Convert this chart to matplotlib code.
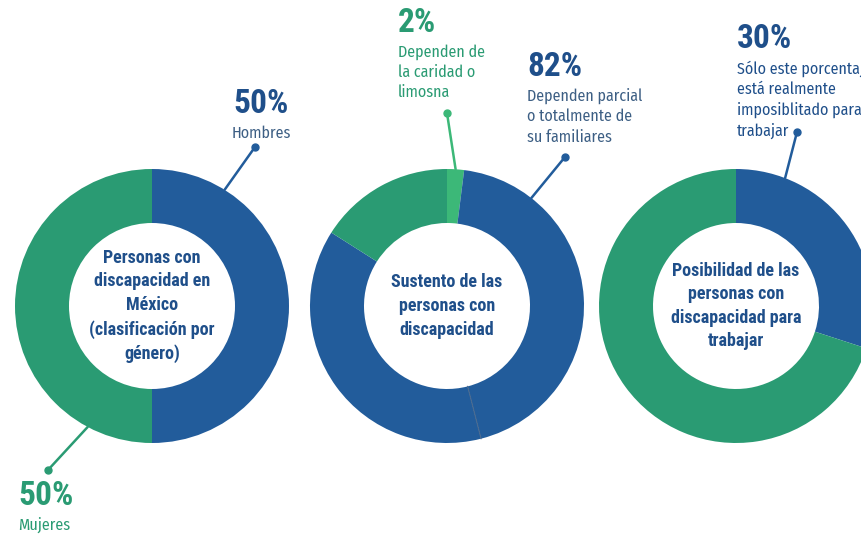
import matplotlib
matplotlib.use("Agg")
import matplotlib.pyplot as plt
import numpy as np

# colours
blue = "#225c9b"
green = "#2a9b73"
light_green = "#3cb878"
text_blue = "#1f4f8a"
text_green = "#2a9b73"
gray_blue = "#3d5f84"

# data for the three donuts
gender_values = [50, 50]            # hombres, mujeres
gender_colors = [blue, green]
gender_center = "Personas con\ndiscapacidad en\nMéxico\n(clasificación por\ngénero)"

support_values = [2, 44, 38, 16]    # caridad, familiares (parcial), familiares (total), otro
support_colors = [light_green, blue, blue, green]
support_center = "Sustento de las\npersonas con\ndiscapacidad"

work_values = [30, 70]              # imposibilitado, puede trabajar
work_colors = [blue, green]
work_center = "Posibilidad de las\npersonas con\ndiscapacidad para\ntrabajar"

W, H = 861, 534
R = 137
RING = 54
centers = [(152, 306), (447, 306), (736, 306)]   # pixel layout, y from top

fig = plt.figure(figsize=(W / 100, H / 100), dpi=100)
ax = fig.add_axes([0, 0, 1, 1])

label_font = ["Fira Sans Condensed", "Archivo Narrow", "DejaVu Sans"]
center_font = ["Roboto Condensed", "Barlow Condensed", "Roboto", "DejaVu Sans"]


def px(x, y):
    return x, H - y


def donut(values, colors, center, title):
    cx, cy = px(*center)
    wedges, _ = ax.pie(values, colors=colors, startangle=90, counterclock=False,
                       radius=R, center=(cx, cy), frame=True,
                       wedgeprops=dict(width=RING, linewidth=0))
    ax.text(cx, cy, title, ha="center", va="center", fontsize=13,
            fontweight="bold", color=text_blue, family=center_font,
            linespacing=1.4)
    return wedges


def leader(center, angle, dot, color):
    # angle measured clockwise from 12 o'clock
    cx, cy = px(*center)
    a = np.deg2rad(angle)
    x0, y0 = cx + R * np.sin(a), cy + R * np.cos(a)
    dx, dy = px(*dot)
    ax.plot([x0, dx], [y0, dy], color=color, lw=1.8, solid_capstyle="round")
    ax.plot(dx, dy, "o", color=color, ms=5)


def label(x, y, pct, desc, color, desc_color, ha="left"):
    ax.text(*px(x, y), pct, ha=ha, va="top", fontsize=24, fontweight="bold",
            color=color, family=center_font)
    ax.text(*px(x, y + 37), desc, ha=ha, va="top", fontsize=11.5,
            color=desc_color, family=label_font, linespacing=1.35)


donut(gender_values, gender_colors, centers[0], gender_center)
donut(support_values, support_colors, centers[1], support_center)
donut(work_values, work_colors, centers[2], work_center)

# thin split inside the blue part of the second donut
cx, cy = px(*centers[1])
split = 360 * sum(support_values[:2]) / sum(support_values)
a = np.deg2rad(split)
ax.plot([cx + (R - RING) * np.sin(a), cx + R * np.sin(a)],
        [cy + (R - RING) * np.cos(a), cy + R * np.cos(a)],
        color="#4a6a8f", lw=0.8)

# leader lines
leader(centers[0], 32, (255, 147), blue)
leader(centers[0], 208, (48, 470), green)
leader(centers[1], 360 * support_values[0] / 2 / sum(support_values), (447, 113), light_green)
leader(centers[1], 38, (565, 157), blue)
leader(centers[2], 21, (797, 132), blue)

# labels
label(261, 88, f"{gender_values[0]}%", "Hombres", text_blue, gray_blue, ha="center")
label(18, 480, f"{gender_values[1]}%", "Mujeres", text_green, text_green)
label(398, 7, f"{support_values[0]}%", "Dependen de\nla caridad o\nlimosna",
      text_green, text_green)
label(527, 51, f"{support_values[1] + support_values[2]}%",
      "Dependen parcial\no totalmente de\nsu familiares", text_blue, gray_blue)
label(737, 23, f"{work_values[0]}%",
      "Sólo este porcentaje\nestá realmente\nimposiblitado para\ntrabajar",
      text_blue, text_blue)

ax.set_xlim(0, W)
ax.set_ylim(0, H)
ax.set_aspect("equal")
ax.axis("off")

fig.savefig("out.png", dpi=100, facecolor="white")
